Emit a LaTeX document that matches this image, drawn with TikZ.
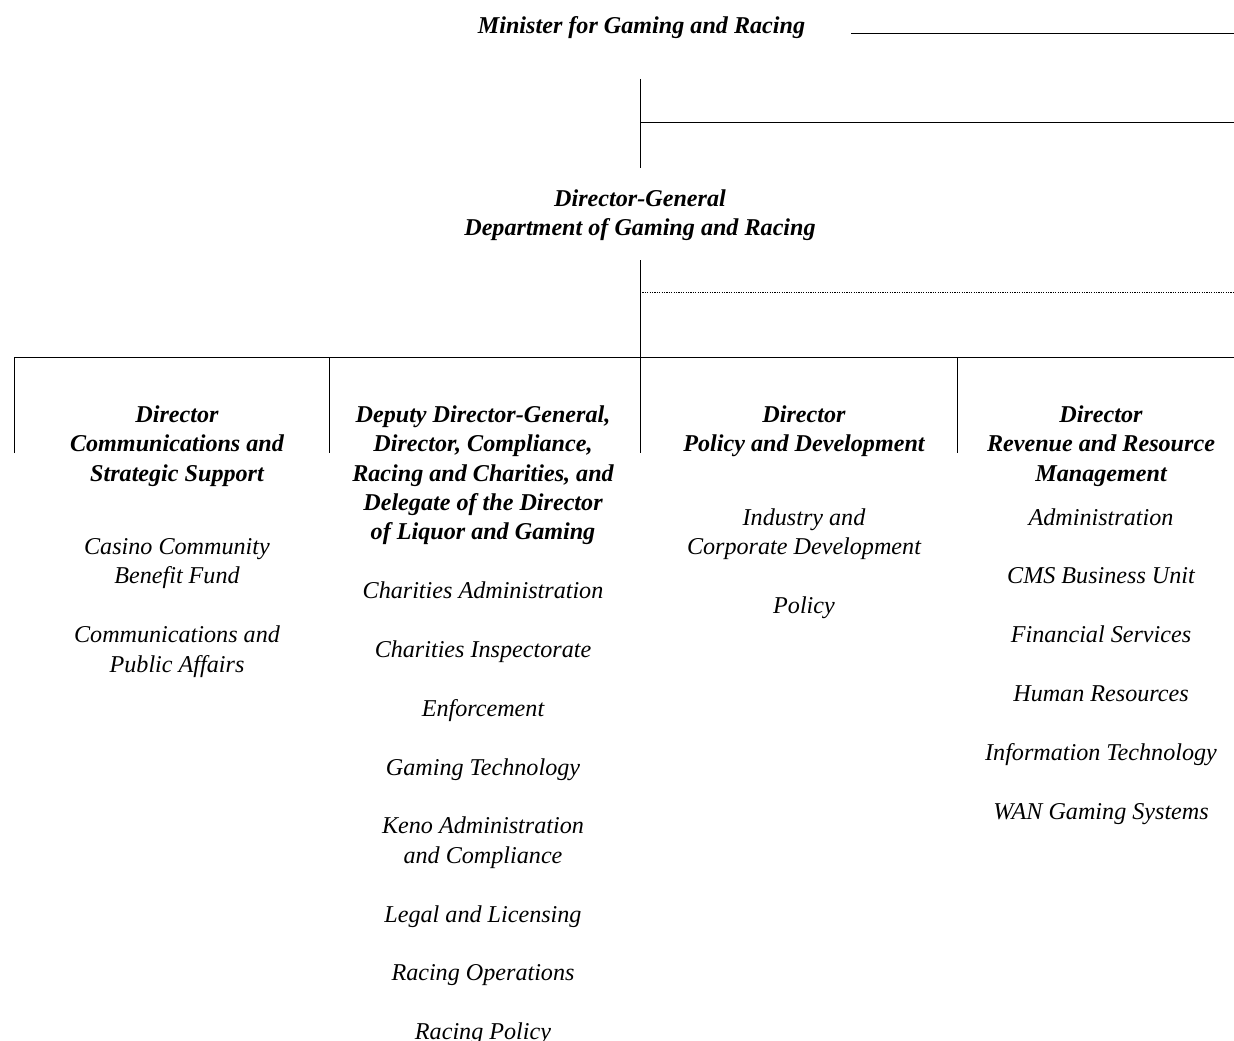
\documentclass[tikz,border=0pt]{standalone}
\usepackage{fontspec}
\setmainfont{Liberation Serif}
\newcommand\fl{\rule{0pt}{15pt}}
\def\dy{20}
\tikzset{
  hd/.style={font=\bfseries\itshape\fontsize{18.1}{22.05}\selectfont, align=center, anchor=north, inner sep=0pt},
  unit/.style={font=\itshape\fontsize{18.1}{22.05}\selectfont, align=center, anchor=north, inner sep=0pt},
  ln/.style={line width=0.75pt, draw=black},
  dotln/.style={line width=0.6pt, draw=black, dash pattern=on 0.9pt off 0.9pt},
}
\begin{document}
\begin{tikzpicture}[x=0.75pt,y=-0.75pt]
\useasboundingbox (0,0) rectangle (1234,1041);
% nodes
\node[hd] (minister) at (641.5,33-\dy) {\fl Minister for Gaming and Racing};
\node[hd] (dg) at (640,206-\dy) {\fl Director-General\\Department of Gaming and Racing};
\node[hd] (h1) at (177,422-\dy) {\fl Director\\Communications and\\Strategic Support};
\node[hd] (h2) at (483,422-\dy) {\fl Deputy Director-General,\\Director, Compliance,\\Racing and Charities, and\\Delegate of the Director\\of Liquor and Gaming};
\node[hd] (h3) at (804,422-\dy) {\fl Director\\Policy and Development};
\node[hd] (h4) at (1101,422-\dy) {\fl Director\\Revenue and Resource\\Management};
% column 1
\node[unit] (c1a) at (177,554.3-\dy) {\fl Casino Community\\Benefit Fund};
\node[unit] (c1b) at (177,642.5-\dy) {\fl Communications and\\Public Affairs};
% column 2
\node[unit] (c2a) at (483,598.4-\dy) {\fl Charities Administration};
\node[unit] (c2b) at (483,657.2-\dy) {\fl Charities Inspectorate};
\node[unit] (c2c) at (483,716.0-\dy) {\fl Enforcement};
\node[unit] (c2d) at (483,774.8-\dy) {\fl Gaming Technology};
\node[unit] (c2e) at (483,833.6-\dy) {\fl Keno Administration\\and Compliance};
\node[unit] (c2f) at (483,921.8-\dy) {\fl Legal and Licensing};
\node[unit] (c2g) at (483,980.6-\dy) {\fl Racing Operations};
\node[unit] (c2h) at (483,1039.4-\dy) {\fl Racing Policy};
% column 3
\node[unit] (c3a) at (804,524.9-\dy) {\fl Industry and\\Corporate Development};
\node[unit] (c3b) at (804,613.1-\dy) {\fl Policy};
% column 4
\node[unit] (c4a) at (1101,524.9-\dy) {\fl Administration};
\node[unit] (c4b) at (1101,583.7-\dy) {\fl CMS Business Unit};
\node[unit] (c4c) at (1101,642.5-\dy) {\fl Financial Services};
\node[unit] (c4d) at (1101,701.3-\dy) {\fl Human Resources};
\node[unit] (c4e) at (1101,760.1-\dy) {\fl Information Technology};
\node[unit] (c4f) at (1101,818.9-\dy) {\fl WAN Gaming Systems};
% connector coordinates
\coordinate (mr0) at (851,34);
\coordinate (mr1) at (1234,34);
\coordinate (v1t) at (640,79);
\coordinate (v1b) at (640,168);
\coordinate (v1m) at (640,123);
\coordinate (v1r) at (1234,123);
\coordinate (v2t) at (640,260);
\coordinate (v2b) at (640,453);
\coordinate (dtl) at (640,292);
\coordinate (dtr) at (1234,292);
\coordinate (bl) at (14,357);
\coordinate (br) at (1234,357);
\coordinate (b1) at (14,453);
\coordinate (t2) at (329,357);
\coordinate (b2) at (329,453);
\coordinate (t4) at (957,357);
\coordinate (b4) at (957,453);
% connectors
\draw[ln] (mr0) -- (mr1);
\draw[ln] (v1t) -- (v1b);
\draw[ln] (v1m) -- (v1r);
\draw[ln] (v2t) -- (v2b);
\draw[dotln] (dtl) -- (dtr);
\draw[ln] (b1) -- (bl) -- (br);
\draw[ln] (t2) -- (b2);
\draw[ln] (t4) -- (b4);
\end{tikzpicture}
\end{document}
